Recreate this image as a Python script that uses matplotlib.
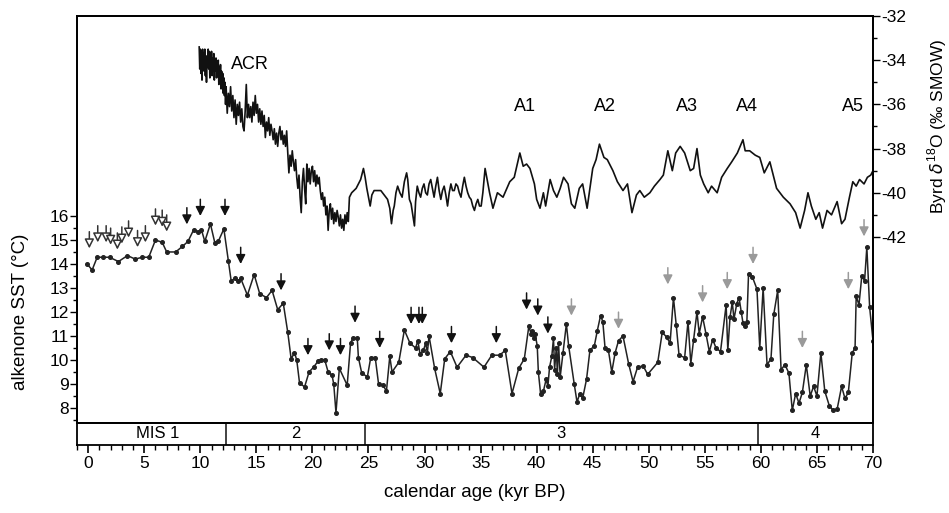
import matplotlib
matplotlib.use('Agg')
import matplotlib.pyplot as plt
from matplotlib.ticker import MultipleLocator, FixedLocator, FuncFormatter

plt.rcParams['font.family'] = ['Liberation Sans Narrow', 'Liberation Sans', 'DejaVu Sans']
plt.rcParams['mathtext.fontset'] = 'custom'
plt.rcParams['mathtext.rm'] = 'Liberation Sans'

# ---- alkenone SST record (kyr BP, deg C) ----
sst_age = [-0.1, 0.35, 0.8, 1.3, 1.9, 2.7, 3.5, 4.2, 4.8, 5.4, 6.0, 6.6, 7.0, 7.8, 8.4, 8.9,
           9.4, 9.8, 10.1, 10.4, 10.9, 11.3, 11.6, 12.1, 12.5, 12.75, 13.1, 13.4, 13.6, 14.2,
           14.8, 15.3, 15.9, 16.4, 16.9, 17.4, 17.8, 18.1, 18.4, 18.6, 18.85, 19.3, 19.7, 20.1,
           20.5, 20.8, 21.1, 21.4, 21.75, 21.9, 22.1, 22.4, 23.1, 23.4, 23.6, 24.0, 24.1, 24.4,
           24.9, 25.2, 25.6, 25.9, 26.3, 26.6, 26.9, 27.1, 27.7, 28.2, 28.7, 29.2, 29.4, 29.6,
           29.9, 30.1, 30.25, 30.4, 30.9, 31.4, 31.8, 32.3, 32.9, 33.7, 34.3, 35.3, 36.0, 36.7,
           37.2, 37.8, 38.4, 38.9, 39.3, 39.5, 39.6, 39.75, 39.85, 40.05, 40.15, 40.35, 40.6,
           40.85, 41.0, 41.15, 41.35, 41.5, 41.6, 41.75, 41.85, 41.95, 42.1, 42.35, 42.65, 42.85,
           43.35, 43.6, 43.85, 44.1, 44.45, 44.75, 45.15, 45.4, 45.7, 45.9, 46.1, 46.4, 46.7,
           47.0, 47.3, 47.7, 48.2, 48.6, 49.0, 49.5, 49.9, 50.8, 51.2, 51.6, 51.9, 52.2, 52.45,
           52.7, 53.2, 53.5, 53.75, 54.0, 54.3, 54.5, 54.8, 55.1, 55.4, 55.7, 56.0, 56.4, 56.9,
           57.05, 57.25, 57.45, 57.6, 57.85, 58.05, 58.25, 58.4, 58.55, 58.75, 58.9, 59.25, 59.65,
           59.9, 60.2, 60.55, 60.9, 61.15, 61.5, 61.8, 62.15, 62.5, 62.8, 63.1, 63.4, 63.7, 64.05,
           64.4, 64.7, 65.0, 65.35, 65.7, 66.1, 66.45, 66.8, 67.2, 67.5, 67.8, 68.15, 68.4, 68.5,
           68.75, 69.0, 69.25, 69.45, 69.7, 70.0]
sst_val = [14.0, 13.75, 14.28, 14.28, 14.28, 14.1, 14.35, 14.2, 14.28, 14.28, 15.0, 14.9, 14.5,
           14.5, 14.73, 14.94, 15.42, 15.35, 15.42, 14.94, 15.67, 14.87, 14.94, 15.46, 14.11, 13.3,
           13.4, 13.3, 13.4, 12.7, 13.56, 12.76, 12.6, 12.9, 12.1, 12.36, 11.15, 10.05, 10.3, 10.0,
           9.04, 8.88, 9.5, 9.7, 9.95, 10.0, 10.0, 9.5, 9.36, 9.0, 7.8, 9.65, 8.95, 10.7, 10.9,
           10.9, 10.1, 9.45, 9.3, 10.1, 10.1, 9.0, 8.95, 8.7, 10.15, 9.5, 9.9, 11.25, 10.7, 10.5,
           10.8, 10.25, 10.4, 10.7, 10.3, 11.0, 9.65, 8.6, 10.05, 10.35, 9.7, 10.2, 10.1, 9.7,
           10.2, 10.2, 10.4, 8.6, 9.65, 10.05, 11.4, 11.1, 11.2, 10.9, 11.1, 10.6, 9.5, 8.6, 8.7,
           9.2, 8.9, 9.7, 10.15, 10.9, 9.6, 10.5, 9.4, 10.7, 9.3, 10.3, 11.5, 10.6, 9.0, 8.25, 8.6,
           8.4, 9.2, 10.4, 10.6, 11.2, 11.85, 11.6, 10.5, 10.4, 9.5, 10.3, 10.8, 11.0, 9.85, 9.1,
           9.7, 9.75, 9.4, 9.9, 11.15, 10.95, 10.7, 12.6, 11.45, 10.2, 10.1, 11.6, 9.85, 10.85,
           12.0, 11.1, 11.8, 11.1, 10.35, 10.85, 10.5, 10.35, 12.3, 10.4, 11.8, 12.4, 11.7, 12.35,
           12.6, 12.0, 11.55, 11.4, 11.6, 13.6, 13.45, 12.95, 10.5, 13.0, 9.8, 10.05, 11.9, 12.9,
           9.6, 9.8, 9.45, 7.9, 8.6, 8.2, 8.65, 9.8, 8.5, 8.9, 8.5, 10.3, 8.7, 8.1, 7.9, 7.95, 8.9,
           8.4, 8.65, 10.3, 10.5, 12.65, 12.3, 13.5, 13.3, 14.7, 12.2, 10.8]

# ---- Byrd ice core d18O (permil SMOW) ----
byrd_age = [9.9, 9.95, 10.0, 10.05, 10.1, 10.15, 10.2, 10.25, 10.3, 10.35, 10.4, 10.45, 10.5,
            10.55, 10.6, 10.65, 10.7, 10.75, 10.8, 10.85, 10.9, 10.95, 11.0, 11.05, 11.1, 11.15,
            11.2, 11.25, 11.3, 11.35, 11.4, 11.45, 11.5, 11.55, 11.6, 11.65, 11.7, 11.75, 11.8,
            11.85, 11.9, 11.95, 12.0, 12.05, 12.1, 12.15, 12.2, 12.25, 12.3,
            12.4, 12.5, 12.6, 12.7, 12.8, 12.9, 13.0, 13.1, 13.2, 13.3, 13.4, 13.5, 13.6, 13.7,
            13.8, 13.9, 14.0, 14.1, 14.2, 14.3, 14.4, 14.5, 14.6, 14.7, 14.8, 14.9, 15.0, 15.1,
            15.2, 15.3, 15.4, 15.5, 15.6, 15.7, 15.8, 15.9, 16.0, 16.1, 16.2, 16.3, 16.4, 16.5,
            16.6, 16.7, 16.8, 16.9, 17.0, 17.1, 17.2, 17.3, 17.4, 17.5, 17.6, 17.7, 17.8, 17.9,
            18.0, 18.1, 18.2, 18.3, 18.4, 18.5, 18.6, 18.7, 18.8, 18.9, 19.0, 19.1, 19.2, 19.3,
            19.4, 19.5, 19.6, 19.7, 19.8, 19.9, 20.0, 20.1, 20.2, 20.3, 20.4, 20.5, 20.6, 20.7,
            20.8, 20.9, 21.0, 21.1, 21.2, 21.3, 21.4, 21.5, 21.6, 21.7, 21.8, 21.9, 22.0, 22.1,
            22.2, 22.3, 22.4, 22.5, 22.6, 22.7, 22.8, 22.9, 23.0, 23.1, 23.2, 23.3, 23.5, 23.7,
            23.9, 24.1, 24.3, 24.55, 24.7, 24.85, 25.0, 25.15, 25.3, 25.5, 25.8, 26.1, 26.4, 26.7,
            26.9, 27.05, 27.2, 27.3, 27.45, 27.6, 27.8, 28.0, 28.2, 28.4, 28.5, 28.65, 28.8,
            28.95, 29.1, 29.2, 29.35, 29.5, 29.65, 29.8, 29.95, 30.1, 30.25, 30.4, 30.55, 30.7,
            30.85, 31.0, 31.15, 31.3, 31.45, 31.6, 31.75, 31.9, 32.05, 32.2, 32.35, 32.5, 32.65,
            32.8, 32.95, 33.1, 33.25, 33.4, 33.55, 33.7, 33.85, 34.0, 34.15, 34.3, 34.45, 34.6,
            34.75, 34.9, 35.05, 35.2,
            35.4, 35.8, 36.1, 36.5, 37.0, 37.6, 38.0, 38.5, 38.8, 39.1, 39.4, 39.8, 40.0, 40.3,
            40.6, 40.8, 41.2, 41.5, 41.8, 42.1, 42.4, 42.8, 43.1, 43.4, 43.8, 44.1, 44.5, 45.0,
            45.3, 45.6, 46.0, 46.3, 46.8, 47.2, 47.7, 48.1, 48.5, 48.9, 49.2, 49.6, 50.1, 50.5,
            51.0, 51.3, 51.7, 52.1, 52.4, 52.8, 53.2, 53.7, 54.0, 54.3, 54.6, 54.9, 55.3, 55.6,
            56.1, 56.5, 57.0, 57.4, 57.9, 58.4, 58.6, 59.0, 59.5, 59.9, 60.3, 60.8, 61.4, 62.0,
            62.6, 63.1, 63.5, 63.9, 64.2, 64.5, 64.9, 65.2, 65.5, 65.9, 66.3, 66.8, 67.2, 67.5,
            67.9, 68.2, 68.5, 68.8, 69.2, 69.5, 69.8, 70.0]
byrd_val = [-33.4, -34.4, -33.5, -34.6, -33.6, -34.9, -33.5, -34.1, -33.7, -34.5, -33.5, -34.7,
            -33.8, -35.0, -33.9, -34.3, -33.5, -34.4, -33.6, -34.8, -33.7, -34.2, -33.6, -34.7,
            -33.9, -34.3, -33.7, -34.9, -34.0, -34.5, -33.9, -34.8, -34.1, -34.6, -34.0, -35.1,
            -34.3, -34.9, -34.2, -35.3, -34.5, -35.0, -34.6, -35.5, -34.8, -35.6, -35.0, -36.0,
            -35.2,
            -36.4, -35.5, -36.1, -35.2, -36.3, -35.6, -36.6, -35.8, -36.9, -36.0, -36.5, -35.9,
            -36.8, -36.2, -37.0, -37.2, -36.3, -35.1, -36.6, -36.0, -36.6, -36.1, -36.8, -35.9,
            -36.5, -35.6, -36.4, -36.0, -36.8, -36.2, -36.9, -36.3, -37.0, -36.5, -37.5, -36.8,
            -37.2, -36.6, -37.4, -36.9, -37.2, -37.6, -37.1, -37.8, -37.3, -37.9, -37.3, -37.0,
            -37.6, -37.2, -37.8, -37.4, -37.9, -37.2, -38.2, -39.1, -38.3, -38.8, -38.1, -38.6,
            -39.0, -38.5, -39.3, -39.8, -39.2, -40.2, -40.9, -39.5, -38.9, -39.8, -40.5, -38.7,
            -39.5, -38.9, -39.6, -39.0, -38.8, -39.5, -39.0, -39.7, -39.2, -39.6, -39.3, -39.9,
            -40.3, -40.0, -40.6, -40.2, -41.0, -40.6, -41.7, -40.8, -40.5, -41.2, -40.7, -41.4,
            -40.9, -41.3, -40.8, -41.1, -41.5, -41.0, -41.6, -41.2, -41.7, -41.0, -41.4, -40.9,
            -41.3, -40.2, -40.0, -39.9, -39.8, -39.6, -39.4, -38.9, -39.3, -39.8, -40.2, -40.6,
            -40.1, -39.9, -39.9, -39.9, -40.1, -40.3, -40.7, -41.4, -40.8, -40.6, -40.0, -39.7,
            -40.0, -40.2, -39.5, -39.1, -39.4, -40.3, -40.5, -41.0, -41.5, -40.4, -39.7, -40.0,
            -40.2, -39.8, -39.6, -40.0, -40.1, -39.6, -39.4, -39.8, -40.2, -39.7, -39.3, -39.9,
            -40.3, -39.9, -39.7, -40.1, -40.6, -40.0, -39.6, -39.9, -39.9, -39.6, -39.7, -40.0,
            -40.2, -39.7, -39.3, -39.7, -40.0, -40.2, -40.3, -40.6, -40.8, -40.5, -40.3, -40.6,
            -40.6, -40.0,
            -38.9, -40.0, -40.7, -40.0, -40.2, -39.5, -39.3, -38.2, -38.8, -38.7, -38.9, -39.6,
            -40.3, -40.7, -40.0, -40.6, -39.4, -39.9, -40.2, -39.8, -39.3, -39.6, -40.5, -40.7,
            -39.8, -39.6, -40.7, -38.9, -38.5, -37.8, -38.4, -38.5, -39.0, -39.5, -39.9, -39.6,
            -40.9, -40.1, -39.9, -40.2, -40.0, -39.7, -39.4, -39.2, -38.1, -39.0, -38.2, -37.9,
            -38.2, -39.0, -38.9, -38.0, -39.2, -39.6, -40.0, -39.7, -40.0, -39.3, -38.9, -38.6,
            -38.2, -37.6, -38.1, -38.1, -38.3, -38.4, -39.1, -38.6, -39.8, -40.2, -40.5, -40.9,
            -41.6, -40.8, -40.0, -40.6, -41.2, -40.9, -41.6, -40.8, -41.0, -40.4, -41.4, -41.2,
            -40.2, -39.5, -39.7, -39.4, -39.6, -39.3, -39.2, -39.0]

# ---- arrows above SST points (age, SST at arrow tip) ----
open_arrow_age = [0.1, 0.85, 1.6, 2.0, 2.6, 3.0, 3.6, 4.4, 5.1, 6.0, 6.6, 7.0]
open_arrow_tip = [14.65, 14.9, 14.9, 14.8, 14.6, 14.85, 15.1, 14.7, 14.9, 15.6, 15.55, 15.35]
black_arrow_age = [8.8, 10.0, 12.2, 13.6, 17.2, 19.6, 21.5, 22.5, 23.8, 26.0, 28.8, 29.5, 29.8,
                   32.4, 36.4, 39.1, 40.1, 41.0]
black_arrow_tip = [15.65, 16.0, 16.0, 14.0, 12.9, 10.2, 10.4, 10.2, 11.55, 10.5, 11.5, 11.5,
                   11.5, 10.7, 10.7, 12.1, 11.85, 11.1]
gray_arrow_age = [43.1, 47.3, 51.7, 54.8, 57.0, 59.3, 63.7, 67.8, 69.2]
gray_arrow_tip = [11.85, 11.3, 13.15, 12.4, 12.95, 14.0, 10.5, 12.95, 15.15]

# ---- marine isotope stages and Antarctic warm events ----
mis_bounds = [12.27, 24.7, 59.7]
mis_names = ['MIS 1', '2', '3', '4']
mis_centers = [6.2, 18.5, 42.2, 64.85]
event_names = ['A1', 'A2', 'A3', 'A4', 'A5']
event_age = [39.0, 46.1, 53.4, 58.8, 68.2]
event_level = -36.1

W, H = 949, 513
fig = plt.figure(figsize=(W / 100, H / 100), dpi=100)
ax = fig.add_axes([77 / W, 1 - 423 / H, 796 / W, 407 / H])
band = fig.add_axes([77 / W, 1 - 445 / H, 796 / W, 22 / H], sharex=ax)
ax2 = ax.twinx()

tick_fs = 12.5
label_fs = 13.5
sans = ['Liberation Sans', 'DejaVu Sans']

# SST curve
ax.plot(sst_age, sst_val, color='#222222', lw=1.1, marker='o', ms=2.6, zorder=3)
ax.set_xlim(-1, 70)
ax.set_ylim(7.375, 24.33)
ax.yaxis.set_major_locator(FixedLocator(list(range(8, 17))))
ax.yaxis.set_minor_locator(FixedLocator([7.5 + 0.5 * i for i in range(18)]))
ax.tick_params(axis='y', which='major', direction='out', length=5, width=1, labelsize=tick_fs, pad=1)
ax.tick_params(axis='y', which='minor', direction='out', length=3, width=1)
ax.tick_params(axis='x', which='both', bottom=False, labelbottom=False)
for s in ax.spines.values():
    s.set_linewidth(1.3)
ax.set_ylabel('alkenone SST (°C)', fontsize=label_fs, family=sans)
ax.yaxis.set_label_coords(-0.06, (12 - 7.375) / (24.33 - 7.375))


def draw_arrows(ages, tips, face, edge):
    for a, t in zip(ages, tips):
        ax.annotate('', xy=(a, t), xytext=(0, 12), textcoords='offset points',
                    xycoords='data', zorder=4,
                    arrowprops=dict(arrowstyle='-|>,head_length=0.55,head_width=0.28',
                                    fc=face, ec=edge, lw=1.1, mutation_scale=10,
                                    shrinkA=0, shrinkB=0))


draw_arrows(open_arrow_age, open_arrow_tip, 'white', '#333333')
draw_arrows(black_arrow_age, black_arrow_tip, '#111111', '#111111')
draw_arrows(gray_arrow_age, gray_arrow_tip, '#9a9a9a', '#9a9a9a')

# Byrd curve on the right axis
ax2.plot(byrd_age, byrd_val, color='#111111', lw=1.2, zorder=2)
ax2.set_ylim(-50.42, -32)
ax2.yaxis.set_major_locator(FixedLocator([-32, -34, -36, -38, -40, -42]))
ax2.yaxis.set_minor_locator(FixedLocator([-33, -35, -37, -39, -41]))
ax2.yaxis.set_major_formatter(FuncFormatter(lambda v, p: '-%d' % abs(v)))
ax2.tick_params(axis='y', which='major', direction='out', length=5, width=1, labelsize=tick_fs, pad=1)
ax2.tick_params(axis='y', which='minor', direction='out', length=3, width=1)
ax2.set_ylabel(r'Byrd $\delta^{18}$O (‰ SMOW)', fontsize=12.5, family=sans)
ax2.yaxis.set_label_coords(1.066, (-37 + 50.42) / (50.42 - 32))
for s in ax2.spines.values():
    s.set_linewidth(1.3)

ax2.text(12.7, -34.2, 'ACR', fontsize=13, ha='left', va='center', family=sans)
for name, a in zip(event_names, event_age):
    ax2.text(a, event_level, name, fontsize=13, ha='center', va='center', family=sans)

# MIS band with the age axis
band.set_ylim(0, 1)
band.set_yticks([])
for b in mis_bounds:
    band.axvline(b, color='#222222', lw=1.2)
for name, c in zip(mis_names, mis_centers):
    band.text(c, 0.5, name, ha='center', va='center', fontsize=12)
for s in band.spines.values():
    s.set_linewidth(1.3)
band.xaxis.set_major_locator(MultipleLocator(5))
band.xaxis.set_minor_locator(MultipleLocator(1))
band.tick_params(axis='x', which='major', direction='out', length=6, width=1.2, labelsize=tick_fs, pad=2)
band.tick_params(axis='x', which='minor', direction='out', length=3.5, width=1)
band.set_xlabel('calendar age (kyr BP)', fontsize=label_fs, labelpad=9, family=sans)

fig.savefig('out.png', dpi=100)
